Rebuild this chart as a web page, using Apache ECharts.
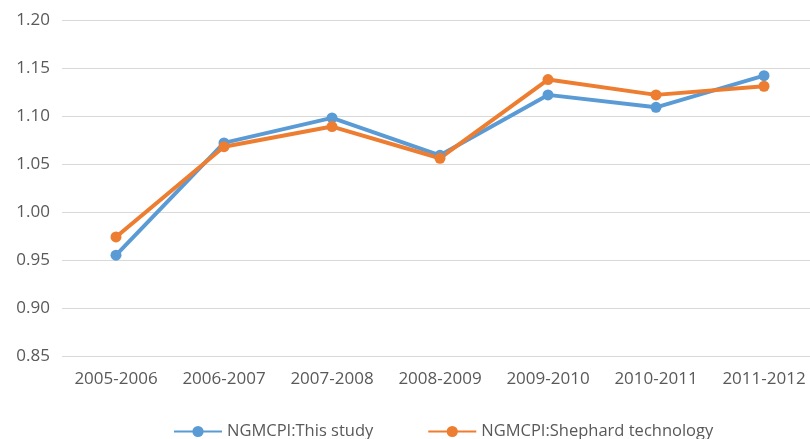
<!DOCTYPE html>
<html>
<head>
<meta charset="utf-8">
<script src="https://cdn.jsdelivr.net/npm/echarts@6/dist/echarts.min.js"></script>
<style>
  html, body { margin: 0; padding: 0; background: #fff; overflow: hidden; }
  #chart { width: 818px; height: 439px; }
</style>
</head>
<body>
<div id="chart"></div>
<script>
// Period labels on the category axis
const periods = ['2005-2006', '2006-2007', '2007-2008', '2008-2009', '2009-2010', '2010-2011', '2011-2012'];
// NGMCPI values for each approach
const thisStudy = [0.955, 1.072, 1.098, 1.059, 1.122, 1.109, 1.142];
const shephard  = [0.974, 1.068, 1.089, 1.056, 1.138, 1.122, 1.131];
const seriesNames = ['NGMCPI:This study', 'NGMCPI:Shephard technology'];

const textColor = '#595959';
const fontFamily = '"Open Sans", "Noto Sans", sans-serif';

const chart = echarts.init(document.getElementById('chart'));
chart.setOption({
  animation: false,
  color: ['#5B9BD5', '#ED7D31'],
  grid: { left: 62, top: 20, right: 0, height: 336, containLabel: false },
  legend: {
    top: 418,
    left: 168,
    itemWidth: 48,
    itemHeight: 14,
    itemGap: 54,
    textStyle: { color: textColor, fontSize: 16.5, fontFamily: fontFamily },
    data: seriesNames
  },
  xAxis: {
    type: 'category',
    data: periods,
    boundaryGap: true,
    axisLine: { show: false },
    axisTick: { show: false },
    axisLabel: { interval: 0, color: textColor, fontSize: 17, fontFamily: fontFamily, margin: 15 }
  },
  yAxis: {
    type: 'value',
    min: 0.85,
    max: 1.20,
    interval: 0.05,
    axisLine: { show: false },
    axisTick: { show: false },
    axisLabel: {
      color: textColor, fontSize: 17, fontFamily: fontFamily, margin: 12,
      formatter: v => v.toFixed(2)
    },
    splitLine: { lineStyle: { color: '#d9d9d9', width: 1 } }
  },
  series: [
    {
      name: seriesNames[0], type: 'line', data: thisStudy,
      symbol: 'circle', symbolSize: 11,
      lineStyle: { width: 4 }
    },
    {
      name: seriesNames[1], type: 'line', data: shephard,
      symbol: 'circle', symbolSize: 11,
      lineStyle: { width: 4 }
    }
  ]
});
</script>
</body>
</html>
